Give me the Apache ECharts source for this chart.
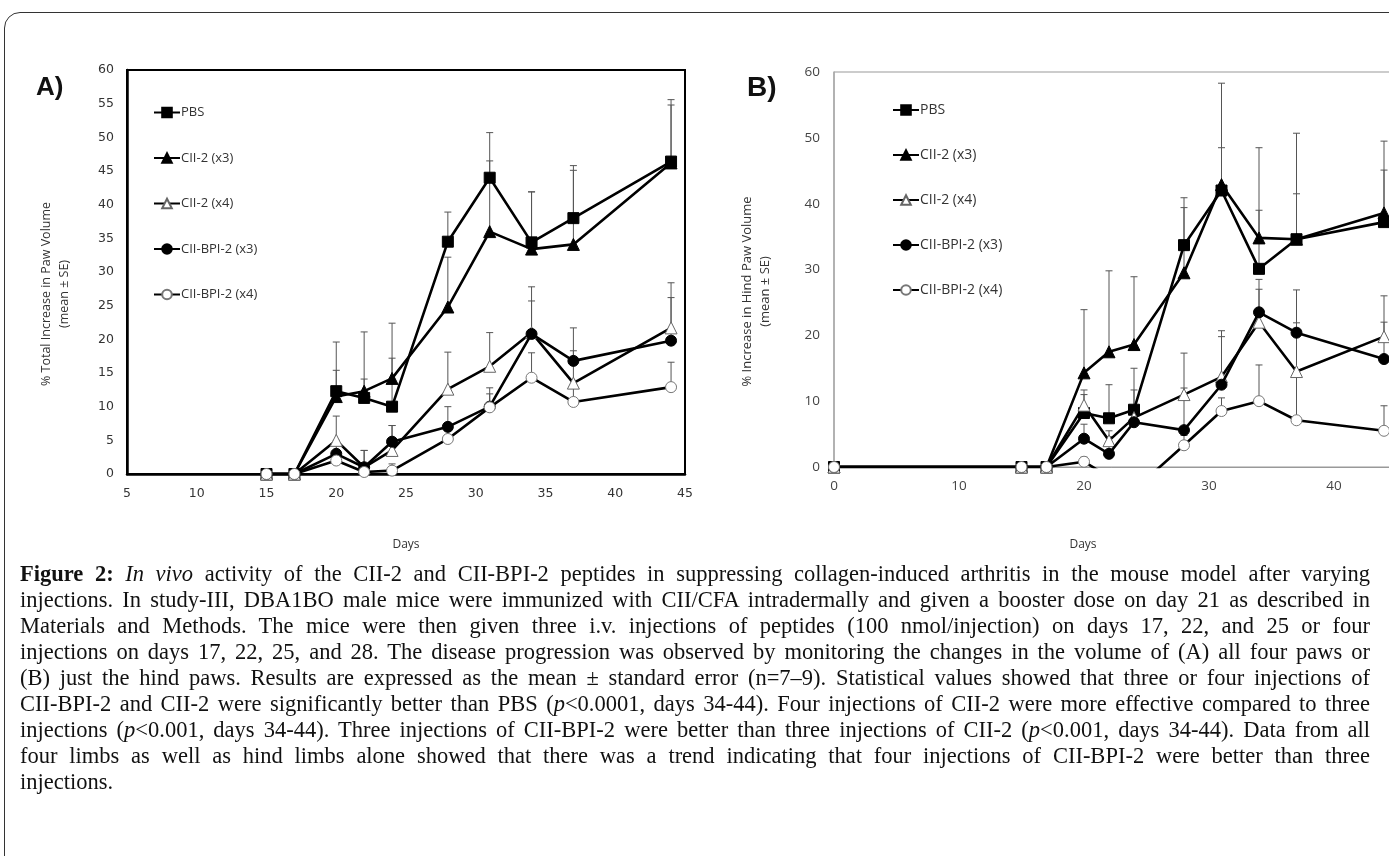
<!DOCTYPE html>
<html>
<head>
<meta charset="utf-8">
<script src="https://cdn.jsdelivr.net/npm/echarts@6/dist/echarts.min.js"></script>
<style>
html,body{margin:0;padding:0;background:#fff;width:1389px;height:856px;overflow:hidden;}
#frame{position:absolute;left:4px;top:12px;width:1500px;height:900px;border:1px solid #333;border-radius:16px;box-sizing:border-box;}
#chart{position:absolute;left:0;top:0;width:1389px;height:856px;}
#caption{position:absolute;left:20px;top:561px;width:1350px;font-family:"Liberation Serif","Times New Roman",serif;font-size:22px;line-height:26px;color:#111;}
#caption div{text-align:justify;text-align-last:justify;white-space:normal;}
#caption div.last{text-align-last:left;}
</style>
</head>
<body>
<div id="frame"></div>
<div id="chart"></div>
<div id="caption">
<div><b>Figure 2:</b> <i>In vivo</i> activity of the CII-2 and CII-BPI-2 peptides in suppressing collagen-induced arthritis in the mouse model after varying</div>
<div>injections. In study-III, DBA1BO male mice were immunized with CII/CFA intradermally and given a booster dose on day 21 as described in</div>
<div>Materials and Methods. The mice were then given three i.v. injections of peptides (100 nmol/injection) on days 17, 22, and 25 or four</div>
<div>injections on days 17, 22, 25, and 28. The disease progression was observed by monitoring the changes in the volume of (A) all four paws or</div>
<div>(B) just the hind paws. Results are expressed as the mean ± standard error (n=7–9). Statistical values showed that three or four injections of</div>
<div>CII-BPI-2 and CII-2 were significantly better than PBS (<i>p</i>&lt;0.0001, days 34-44). Four injections of CII-2 were more effective compared to three</div>
<div>injections (<i>p</i>&lt;0.001, days 34-44). Three injections of CII-BPI-2 were better than three injections of CII-2 (<i>p</i>&lt;0.001, days 34-44). Data from all</div>
<div>four limbs as well as hind limbs alone showed that there was a trend indicating that four injections of CII-BPI-2 were better than three</div>
<div class="last">injections.</div>
</div>
<script>
// fit caption font so that no justified line wraps
(function () {
  const cap = document.getElementById('caption');
  const lines = Array.from(cap.children);
  let fs = 22.5;
  function wraps() {
    return lines.some(function (d) { return d.getBoundingClientRect().height > 30; });
  }
  cap.style.fontSize = fs + 'px';
  while (wraps() && fs > 16) { fs -= 0.25; cap.style.fontSize = fs + 'px'; }
})();

// ---------- Data ----------
const seriesNames = ['PBS', 'CII-2 (x3)', 'CII-2 (x4)', 'CII-BPI-2 (x3)', 'CII-BPI-2 (x4)'];

// Panel A: % total increase in paw volume
const daysA = [15, 17, 20, 22, 24, 28, 31, 34, 37, 44];
const pbsA        = [0, 0, 12.3, 11.3, 10.0, 34.5, 44.0, 34.4, 38.0, 46.4];
const pbsAErr     = [0, 0, 7.3, 9.8, 12.4, 4.4, 6.7, 7.5, 7.8, 9.2];
const cii2x3A     = [0, 0, 11.5, 12.3, 14.2, 24.8, 36.0, 33.4, 34.1, 46.2];
const cii2x3AErr  = [0, 0, 3.9, 1.8, 3.0, 7.4, 10.5, 8.5, 11.0, 8.6];
const cii2x4A     = [0, 0, 5.0, 1.0, 3.5, 12.6, 16.0, 21.0, 13.5, 21.7];
const cii2x4AErr  = [0, 0, 3.6, 2.5, 3.7, 5.5, 5.0, 6.8, 4.8, 6.7];
const bpi2x3A     = [0, 0, 3.0, 1.0, 4.8, 7.0, 10.0, 20.8, 16.8, 19.8];
const bpi2x3AErr  = [0, 0, 2.0, 2.5, 2.4, 3.0, 2.8, 4.9, 4.9, 6.4];
const bpi2x4A     = [0, 0, 2.0, 0.3, 0.5, 5.2, 9.9, 14.3, 10.7, 12.9];
const bpi2x4AErr  = [0, 0, 1.5, 1.0, 1.0, 1.7, 2.0, 3.7, 3.2, 3.7];

// Panel B: % increase in hind paw volume
const daysB = [0, 15, 17, 20, 22, 24, 28, 31, 34, 37, 44];
const pbsB        = [0, 0, 0, 8.2, 7.4, 8.7, 33.7, 42.0, 30.1, 34.6, 37.2];
const pbsBErr     = [0, 0, 0, 3.5, 5.1, 6.3, 7.2, 6.5, 8.9, 6.9, 7.9];
const cii2x3B     = [0, 0, 0, 14.3, 17.5, 18.6, 29.5, 42.9, 34.8, 34.6, 38.6];
const cii2x3BErr  = [0, 0, 0, 9.6, 12.3, 10.3, 9.9, 15.4, 13.7, 16.1, 10.9];
const cii2x4B     = [0, 0, 0, 9.4, 4.0, 7.5, 11.0, 13.7, 22.0, 14.5, 19.8];
const cii2x4BErr  = [0, 0, 0, 1.6, 1.5, 4.2, 6.3, 7.0, 5.0, 7.4, 6.2];
const bpi2x3B     = [0, 0, 0, 4.3, 2.0, 6.8, 5.6, 12.5, 23.5, 20.4, 16.4];
const bpi2x3BErr  = [0, 0, 0, 2.2, 2.6, 1.5, 6.4, 7.3, 5.0, 6.5, 5.6];
const bpi2x4B     = [0, 0, 0, 0.8, -1.5, -3.5, 3.3, 8.5, 10.0, 7.1, 5.5];
const bpi2x4BErr  = [0, 0, 0, 0.7, 0, 0, 1.5, 2.0, 5.5, 6.6, 3.8];

const yTicksA = {min: 0, max: 60, interval: 5};
const xTicksA = {min: 5, max: 45, interval: 5};
const yTicksB = {min: 0, max: 60, interval: 10};
const xTicksB = {min: 0, max: 50, interval: 10};

// ---------- Styles ----------
const markerStyles = [
  {symbol: 'rect', size: 11, fill: '#000', border: '#000'},
  {symbol: 'triangle', size: 12, fill: '#000', border: '#000'},
  {symbol: 'triangle', size: 12, fill: '#fff', border: '#666'},
  {symbol: 'circle', size: 11, fill: '#000', border: '#000'},
  {symbol: 'circle', size: 11, fill: '#fff', border: '#777'}
];

function pairs(days, vals) { return days.map((d, i) => [d, vals[i]]); }
function errData(days, vals, errs) {
  const out = [];
  days.forEach((d, i) => { if (errs[i] > 0) out.push([d, vals[i], vals[i] + errs[i]]); });
  return out;
}

function errorSeries(idx, days, vals, errs) {
  return {
    type: 'custom', xAxisIndex: idx, yAxisIndex: idx, z: 1, silent: true, clip: true,
    data: errData(days, vals, errs),
    renderItem: function (params, api) {
      const p0 = api.coord([api.value(0), api.value(1)]);
      const p1 = api.coord([api.value(0), api.value(2)]);
      const w = 3.5;
      const st = {stroke: '#555', lineWidth: 1};
      return {type: 'group', children: [
        {type: 'line', shape: {x1: p0[0], y1: p0[1], x2: p1[0], y2: p1[1]}, style: st},
        {type: 'line', shape: {x1: p1[0] - w, y1: p1[1], x2: p1[0] + w, y2: p1[1]}, style: st}
      ]};
    }
  };
}

function lineSeries(idx, k, days, vals) {
  const m = markerStyles[k];
  return {
    name: seriesNames[k], type: 'line', xAxisIndex: idx, yAxisIndex: idx, z: 3 + k,
    data: pairs(days, vals), clip: true,
    symbol: m.symbol, symbolSize: m.size, showAllSymbol: true,
    lineStyle: {color: '#000', width: 2.6},
    itemStyle: {color: m.fill, borderColor: m.border, borderWidth: 1},
    emphasis: {disabled: true}, animation: false
  };
}

const valsA = [pbsA, cii2x3A, cii2x4A, bpi2x3A, bpi2x4A];
const errsA = [pbsAErr, cii2x3AErr, cii2x4AErr, bpi2x3AErr, bpi2x4AErr];
const valsB = [pbsB, cii2x3B, cii2x4B, bpi2x3B, bpi2x4B];
const errsB = [pbsBErr, cii2x3BErr, cii2x4BErr, bpi2x3BErr, bpi2x4BErr];

const series = [];
valsA.forEach((v, k) => series.push(errorSeries(0, daysA, v, errsA[k])));
valsB.forEach((v, k) => series.push(errorSeries(1, daysB, v, errsB[k])));
valsA.forEach((v, k) => series.push(lineSeries(0, k, daysA, v)));
valsB.forEach((v, k) => series.push(lineSeries(1, k, daysB, v)));

const fontA = 'DejaVu Sans';
const fontB = 'Open Sans';

const chart = echarts.init(document.getElementById('chart'), null, {renderer: 'canvas'});
chart.setOption({
  animation: false,
  backgroundColor: 'transparent',
  grid: [
    {left: 127, top: 70, width: 558, height: 404, show: true, borderColor: '#000', borderWidth: 2, containLabel: false, outerBoundsMode: 'none'},
    {left: 834, top: 72, width: 625, height: 395, show: true, borderColor: '#999', borderWidth: 1, containLabel: false, outerBoundsMode: 'none'}
  ],
  xAxis: [
    {type: 'value', gridIndex: 0, min: xTicksA.min, max: xTicksA.max, interval: xTicksA.interval,
     axisLine: {show: true, lineStyle: {color: '#000', width: 2.5}}, axisTick: {show: false}, splitLine: {show: false},
     axisLabel: {fontFamily: fontA, fontSize: 12.5, color: '#333', margin: 13}},
    {type: 'value', gridIndex: 1, min: xTicksB.min, max: xTicksB.max, interval: xTicksB.interval,
     axisLine: {show: true, lineStyle: {color: '#999', width: 1}}, axisTick: {show: false}, splitLine: {show: false},
     axisLabel: {fontFamily: fontB, fontSize: 13.5, color: '#444', margin: 12}}
  ],
  yAxis: [
    {type: 'value', gridIndex: 0, min: yTicksA.min, max: yTicksA.max, interval: yTicksA.interval,
     name: '% Total Increase in Paw Volume\n(mean ± SE)', nameLocation: 'middle', nameGap: 54,
     nameTextStyle: {fontFamily: fontB, fontSize: 12.5, color: '#333', lineHeight: 18, padding: [0, 44, 0, 0]},
     axisLine: {show: true, lineStyle: {color: '#000', width: 2.5}}, axisTick: {show: false}, splitLine: {show: false},
     axisLabel: {fontFamily: fontA, fontSize: 12.5, color: '#333', margin: 13}},
    {type: 'value', gridIndex: 1, min: yTicksB.min, max: yTicksB.max, interval: yTicksB.interval,
     name: '% Increase in Hind Paw Volume\n(mean ± SE)', nameLocation: 'middle', nameGap: 60,
     nameTextStyle: {fontFamily: fontB, fontSize: 13, color: '#333', lineHeight: 18, padding: [0, 44, 0, 0]},
     axisLine: {show: true, lineStyle: {color: '#aaa', width: 1.5}}, axisTick: {show: false}, splitLine: {show: false},
     axisLabel: {fontFamily: fontB, fontSize: 13.5, color: '#444', margin: 14}}
  ],
  legend: [
    {orient: 'vertical', left: 153, top: 106, padding: 0, itemWidth: 26, itemHeight: 12, itemGap: 32.5,
     data: seriesNames, selectedMode: false, textStyle: {fontFamily: fontB, fontSize: 13, color: '#333', padding: [0, 0, 0, -4]}},
    {orient: 'vertical', left: 892, top: 103, padding: 0, itemWidth: 26, itemHeight: 12, itemGap: 31,
     data: seriesNames, selectedMode: false, textStyle: {fontFamily: fontB, fontSize: 14, color: '#333', padding: [0, 0, 0, -4]}}
  ],
  graphic: [
    {type: 'text', left: 36, top: 75, style: {text: 'A)', font: 'bold 26px "Liberation Sans", Arial, sans-serif', fill: '#111'}},
    {type: 'text', left: 747, top: 74, style: {text: 'B)', font: 'bold 28px "Liberation Sans", Arial, sans-serif', fill: '#111'}},
    {type: 'text', x: 406, y: 545, style: {text: 'Days', font: '12px "Open Sans"', fill: '#333', align: 'center', verticalAlign: 'middle'}},
    {type: 'text', x: 1083, y: 545, style: {text: 'Days', font: '12px "Open Sans"', fill: '#333', align: 'center', verticalAlign: 'middle'}}
  ],
  series: series
});
</script>
</body>
</html>
